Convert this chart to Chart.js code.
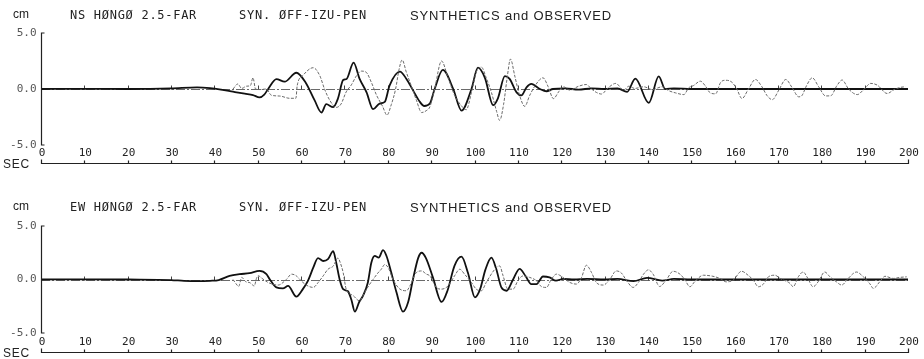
<!DOCTYPE html>
<html>
<head>
<meta charset="utf-8">
<title>Synthetics and Observed - Hongo 2.5-FAR</title>
<script src="https://cdn.jsdelivr.net/npm/chart.js@4.4.1/dist/chart.umd.min.js"></script>
<style>
  html, body { margin: 0; padding: 0; background: #fff; }
  .panel { position: absolute; left: 0; width: 924px; }
  #top { top: 0; height: 180px; }
  #bottom { top: 180px; height: 179px; }
</style>
</head>
<body>
<div class="panel" id="top"><canvas id="nsChart" width="924" height="180"></canvas></div>
<div class="panel" id="bottom"><canvas id="ewChart" width="924" height="179"></canvas></div>
<script>
// time axis (sec) and amplitude axis (cm)
var secTicks = [0, 10, 20, 30, 40, 50, 60, 70, 80, 90, 100, 110, 120, 130, 140, 150, 160, 170, 180, 190, 200];
var cmTicks = [5, 0, -5];
var cmLabels = ['5.0', '0.0', '-5.0'];

// NS component: [sec, cm]
var nsSynthetic = [[0,0],[10,0.02],[20,0],[30,0.05],[36,0.15],[39,0.08],[41.5,-0.05],[44.3,-0.24],[47,-0.42],[48.9,-0.54],[50.4,-0.75],[51.5,-0.5],[52.4,0],[54.3,0.88],[56.2,0.65],[58.9,1.45],[61,0.6],[63.1,-1.0],[64.7,-2.1],[65.8,-1.35],[67.4,-1.62],[68.5,-0.85],[69.7,0.8],[70.5,0.9],[72.1,2.35],[73.5,0.9],[75.1,-0.3],[76.6,-1.8],[78.1,-1.3],[79.3,-1.15],[80.4,0.3],[82.8,1.55],[84.3,0.9],[85.8,-0.1],[87.4,-1.15],[88.4,-1.52],[89.7,-1.3],[90.8,0],[92.7,1.7],[95.1,0],[97,-1.93],[99.3,0],[100.8,1.9],[102.4,1.0],[104.3,-1.44],[105.4,-0.83],[107,1.15],[108.1,0.9],[109.7,-0.3],[110.8,-0.57],[112,0.15],[113.1,0.45],[115.1,0],[116.6,-0.2],[118.1,0],[121,0.05],[124,-0.05],[127,0.05],[130,0],[133,0.05],[135.2,-0.25],[137.1,0.92],[140.2,-1.24],[142.5,1.12],[144,0],[146,0.05],[150,0],[160,0],[170,0],[180,0],[190,0],[200,0]];
var nsObserved = [[44.3,0],[45.4,0.45],[46.3,0.05],[47.4,0.25],[48.3,0.3],[48.9,1.0],[49.5,0],[50.5,-0.05],[52,0],[53.1,-0.55],[55.1,-0.63],[57.4,-0.83],[58.8,-0.83],[59.1,0.3],[60.4,1.2],[62.8,1.9],[64.3,1.2],[65.4,0],[66.6,-1.0],[68.1,-1.64],[69.2,-1.35],[70.4,-0.26],[71.6,0.37],[72.8,1.2],[73.9,1.6],[75,1.5],[76.2,0.6],[77.4,-0.55],[78.8,-1.55],[79.8,-2.33],[80.8,-1.4],[81.8,0],[82.6,1.75],[83.3,2.6],[84.3,1.47],[85.4,0.3],[86.6,-1.0],[87.8,-2.1],[89,-1.9],[89.7,-1.6],[90.8,0],[92.4,2.5],[93.9,1.0],[95.4,-0.55],[97.2,-1.6],[98.1,-1.85],[99.3,-0.3],[100.4,1.5],[101.6,1.95],[102.7,1.0],[103.9,-0.3],[105.1,-2.0],[105.8,-2.8],[106.7,-1.4],[107.5,0.9],[108.3,2.67],[109.3,1.15],[110.4,-0.57],[111.6,-1.55],[112.7,-0.6],[114.1,0.37],[115.8,1.0],[117,0.2],[118.2,-0.86],[119.5,-0.2],[120.5,0.2],[122,-0.1],[123.9,0.23],[125.8,0.4],[127,0],[128.1,-0.3],[129.3,-0.45],[130.8,0.1],[132.6,0.5],[134.4,-0.1],[135.6,0.25],[137,0.05],[139,0.2],[141,-0.05],[143.3,0.2],[144.8,-0.15],[146.4,-0.35],[148.3,-0.5],[149.4,0.1],[150.5,0.3],[152.1,0.7],[153.2,0.3],[154.4,-0.35],[155.6,-0.43],[156.8,0.6],[157.9,0.78],[159.4,0.6],[160.5,0],[161.7,-0.85],[163.2,0],[164.8,0.85],[166.3,0.2],[167.5,-0.6],[168.7,-0.95],[170.2,-0.1],[171.8,0.85],[173.3,0.1],[174.8,-0.7],[175.5,-0.6],[176.6,0.3],[177.9,1.0],[179.4,0.2],[181,-0.62],[182.2,-0.6],[183.6,0.3],[184.8,0.8],[186.3,0],[188.3,-0.5],[189.8,-0.05],[191.4,0.5],[192.9,0.35],[195.2,-0.4],[196.8,-0.05],[198.3,0.15],[199.4,0.2]];

// EW component
var ewSynthetic = [[0,0],[10,0.02],[20,0],[30,-0.05],[33,-0.12],[36,-0.15],[39,-0.12],[41,-0.05],[43.5,0.34],[45.8,0.5],[48.1,0.59],[50.4,0.8],[52,0.5],[52.8,0],[54.3,-0.74],[55.8,-0.83],[57,-0.6],[58.9,-1.6],[60.4,-0.9],[61.6,-0.1],[62.8,1.1],[63.9,2.0],[65.1,1.73],[66.2,1.9],[67.4,2.65],[68.1,1.57],[68.9,0],[69.7,-0.9],[70.8,-1.1],[71.6,-1.9],[72.4,-3.0],[73.4,-2.1],[74.3,-1.5],[75.4,-0.28],[76.2,1.57],[77,2.2],[77.9,2.05],[78.9,2.75],[79.7,2.2],[80.8,0.65],[82,-1.2],[83.5,-3.0],[84.7,-2.1],[85.8,0],[87,2.0],[87.8,2.5],[88.8,2.0],[90.4,0.2],[92.4,-2.1],[93.8,-1.0],[95.4,1.3],[97,2.13],[98.5,0.6],[100.1,-1.67],[101.3,-0.9],[102.5,0.9],[103.9,2.04],[105,1.0],[106.2,-0.74],[107.4,-1.05],[108.9,0],[110.4,1.0],[111.8,0.3],[113.1,-0.43],[114.3,-0.43],[115.8,0.28],[117.3,0.2],[118.8,-0.1],[120.5,0.05],[123,0],[126,0.05],[130,0],[133,0.05],[136.7,-0.15],[139.8,0.15],[143.3,-0.1],[146,0.05],[150,0],[160,0],[170,0],[180,0],[190,0],[200,0]];
var ewObserved = [[44.3,0],[45,-0.4],[45.6,-0.65],[46.3,0.2],[47.2,-0.2],[48.2,-0.3],[49.2,-0.6],[49.7,0.1],[50.1,0.35],[51,0.1],[52.5,-0.3],[54.7,-0.52],[56.6,0],[57.8,0.5],[58.9,0.34],[59.7,0],[61.2,-0.52],[62.8,-0.74],[63.9,-0.3],[65.1,0.34],[66.2,0.96],[67.4,1.25],[68.5,2.0],[69.1,1.5],[69.7,0.65],[70.4,-0.9],[72,-1.5],[73.5,-2.0],[74.3,-1.5],[75.1,-0.9],[76.6,0],[77.7,0.6],[78.5,0.96],[79.3,1.4],[80.1,1.1],[81.2,0],[82.8,-0.9],[84.3,-1.05],[85.1,-0.6],[86.6,0.65],[87.8,0.8],[88.9,0.5],[89.7,0.34],[91.2,-0.74],[92.4,-0.9],[93.9,-0.6],[95.4,0.34],[96.6,0.96],[97.7,0.5],[99.3,-0.28],[100.4,-0.9],[101.6,-1.05],[102.7,-0.28],[104.7,0.96],[105.8,1.27],[106.6,0.34],[107.7,-0.9],[108.9,-0.9],[110,-0.12],[111.2,0.34],[112.7,0.2],[114.3,-0.12],[115.4,-0.65],[116.6,-0.74],[117.7,0],[118.9,0.5],[120.4,0.2],[122,-0.28],[123.5,-0.43],[124.7,0.2],[125.8,1.33],[127,0.65],[128.1,-0.28],[129.7,-0.52],[131.2,0],[132.7,0.8],[133.9,0.6],[135.1,-0.12],[136.6,-0.74],[137.8,-0.28],[139,0.5],[140.1,0.9],[141.2,0.5],[142.7,-0.65],[144.3,0],[145.8,0.77],[147.4,0.5],[148.5,0],[149.7,-0.68],[150.8,-0.2],[152.8,0.4],[155,0.3],[156.6,0.1],[158.1,-0.22],[159.7,-0.05],[161.6,0.77],[163.1,0.4],[164.3,-0.05],[165.5,-0.68],[166.7,-0.4],[167.8,0.25],[169.3,0.4],[170.5,0.1],[172.8,-0.37],[173.5,-0.68],[174.7,0.25],[175.8,0.7],[176.9,0.1],[178.1,-0.68],[179.3,-0.2],[180.8,0.7],[182,0.25],[183.5,-0.22],[184.7,-0.52],[186.2,0.1],[188.1,0.7],[189.7,0.25],[191.2,-0.4],[192,-0.83],[193.5,-0.2],[194.7,0.3],[196.6,0.1],[198.2,0.2],[199.7,0.25]];

var MONO = '"DejaVu Sans Mono", monospace';
var SANS = '"Liberation Sans", Arial, sans-serif';

// stretch text to a given width with letter spacing (plotter lettering is wide)
function fitText(ctx, text, x, y, width) {
    ctx.letterSpacing = '0px';
    var w = ctx.measureText(text).width;
    ctx.letterSpacing = ((width - w) / text.length) + 'px';
    ctx.fillText(text, x, y);
    ctx.letterSpacing = '0px';
}

// pen-plotter style frame: zero line, y bracket, detached time axis, headings
var plotterFrame = {
    id: 'plotterFrame',
    beforeDatasetsDraw: function (chart, args, o) {
        var ctx = chart.ctx, xs = chart.scales.x, ys = chart.scales.y;
        var y0 = Math.round(ys.getPixelForValue(0)) + 0.5;
        ctx.save();
        ctx.strokeStyle = '#444';
        ctx.lineWidth = 0.8;
        ctx.setLineDash([9, 2, 2, 2]);
        ctx.beginPath();
        ctx.moveTo(xs.getPixelForValue(0), y0);
        ctx.lineTo(xs.getPixelForValue(200), y0);
        ctx.stroke();
        ctx.setLineDash([]);
        ctx.lineWidth = 1;
        ctx.beginPath();
        secTicks.forEach(function (t) {
            if (t === 0 || t === 200) return;
            var px = Math.round(xs.getPixelForValue(t)) + 0.5;
            ctx.moveTo(px, y0);
            ctx.lineTo(px, y0 - 4);
        });
        ctx.stroke();
        ctx.restore();
    },
    afterDatasetsDraw: function (chart, args, o) {
        var ctx = chart.ctx, xs = chart.scales.x, ys = chart.scales.y;
        var xl = Math.round(xs.getPixelForValue(0)) + 0.5;
        var xr = Math.round(xs.getPixelForValue(200)) + 0.5;
        var yt = ys.getPixelForValue(cmTicks[0]);
        var yb = ys.getPixelForValue(cmTicks[2]);
        ctx.save();
        ctx.strokeStyle = '#222';
        ctx.lineWidth = 1.2;

        // amplitude axis
        ctx.beginPath();
        ctx.moveTo(xl + 3, yt);
        ctx.lineTo(xl, yt);
        ctx.lineTo(xl, yb);
        ctx.lineTo(xl + 3, yb);
        ctx.stroke();
        ctx.font = '11px ' + MONO;
        ctx.fillStyle = '#555';
        ctx.textAlign = 'right';
        ctx.textBaseline = 'middle';
        cmTicks.forEach(function (v, i) {
            ctx.fillText(cmLabels[i], xl - 5, ys.getPixelForValue(v));
        });

        // time axis, drawn below the trace area
        var ay = Math.round(yb + o.axisGap) + 0.5;
        ctx.beginPath();
        ctx.moveTo(xl, ay - 4);
        ctx.lineTo(xl, ay);
        ctx.lineTo(xr, ay);
        ctx.lineTo(xr, ay - 4);
        secTicks.forEach(function (t) {
            var px = Math.round(xs.getPixelForValue(t)) + 0.5;
            ctx.moveTo(px, ay);
            ctx.lineTo(px, ay - 3);
        });
        ctx.stroke();
        ctx.fillStyle = '#222';
        ctx.textAlign = 'center';
        secTicks.forEach(function (t) {
            ctx.fillText(String(t), xs.getPixelForValue(t) + 1, ay - o.labelGap);
        });

        // units
        ctx.textAlign = 'left';
        ctx.font = '12px ' + SANS;
        ctx.fillStyle = '#222';
        fitText(ctx, 'SEC', 3, ay + 1, 27);
        ctx.fillText('cm', 13, o.titleY - 1);

        // headings
        ctx.font = '12px ' + MONO;
        fitText(ctx, o.station, 70, o.titleY, 127);
        fitText(ctx, 'SYN. \u00D8FF-IZU-PEN', 239, o.titleY, 128);
        ctx.font = '13px ' + SANS;
        fitText(ctx, 'SYNTHETICS and OBSERVED', 410, o.titleY, 202);
        ctx.restore();
    }
};

function toPoints(pairs) {
    return pairs.map(function (p) { return { x: p[0], y: p[1] }; });
}

function makeChart(id, synthetic, observed, frame, pad) {
    var ctx = document.getElementById(id).getContext('2d');
    return new Chart(ctx, {
        type: 'line',
        data: {
            datasets: [{
                label: 'Observed',
                data: toPoints(observed),
                borderColor: '#6a6a6a',
                borderWidth: 1,
                borderDash: [3, 1.5],
                cubicInterpolationMode: 'monotone'
            }, {
                label: 'Synthetics',
                data: toPoints(synthetic),
                borderColor: '#111',
                borderWidth: 1.8,
                cubicInterpolationMode: 'monotone'
            }]
        },
        options: {
            responsive: false,
            animation: false,
            devicePixelRatio: 1,
            layout: { padding: pad },
            elements: { point: { radius: 0 } },
            scales: {
                x: { type: 'linear', min: 0, max: 200, display: false },
                y: { min: -5, max: 5, display: false }
            },
            plugins: {
                legend: { display: false },
                tooltip: { enabled: false },
                plotterFrame: frame
            }
        },
        plugins: [plotterFrame]
    });
}

makeChart('nsChart', nsSynthetic, nsObserved,
    { station: 'NS H\u00D8NG\u00D8 2.5-FAR', titleY: 16, axisGap: 18, labelGap: 10 },
    { left: 41, right: 16, top: 33, bottom: 35 });
makeChart('ewChart', ewSynthetic, ewObserved,
    { station: 'EW H\u00D8NG\u00D8 2.5-FAR', titleY: 28, axisGap: 19, labelGap: 10 },
    { left: 41, right: 16, top: 46, bottom: 26 });
</script>
</body>
</html>
